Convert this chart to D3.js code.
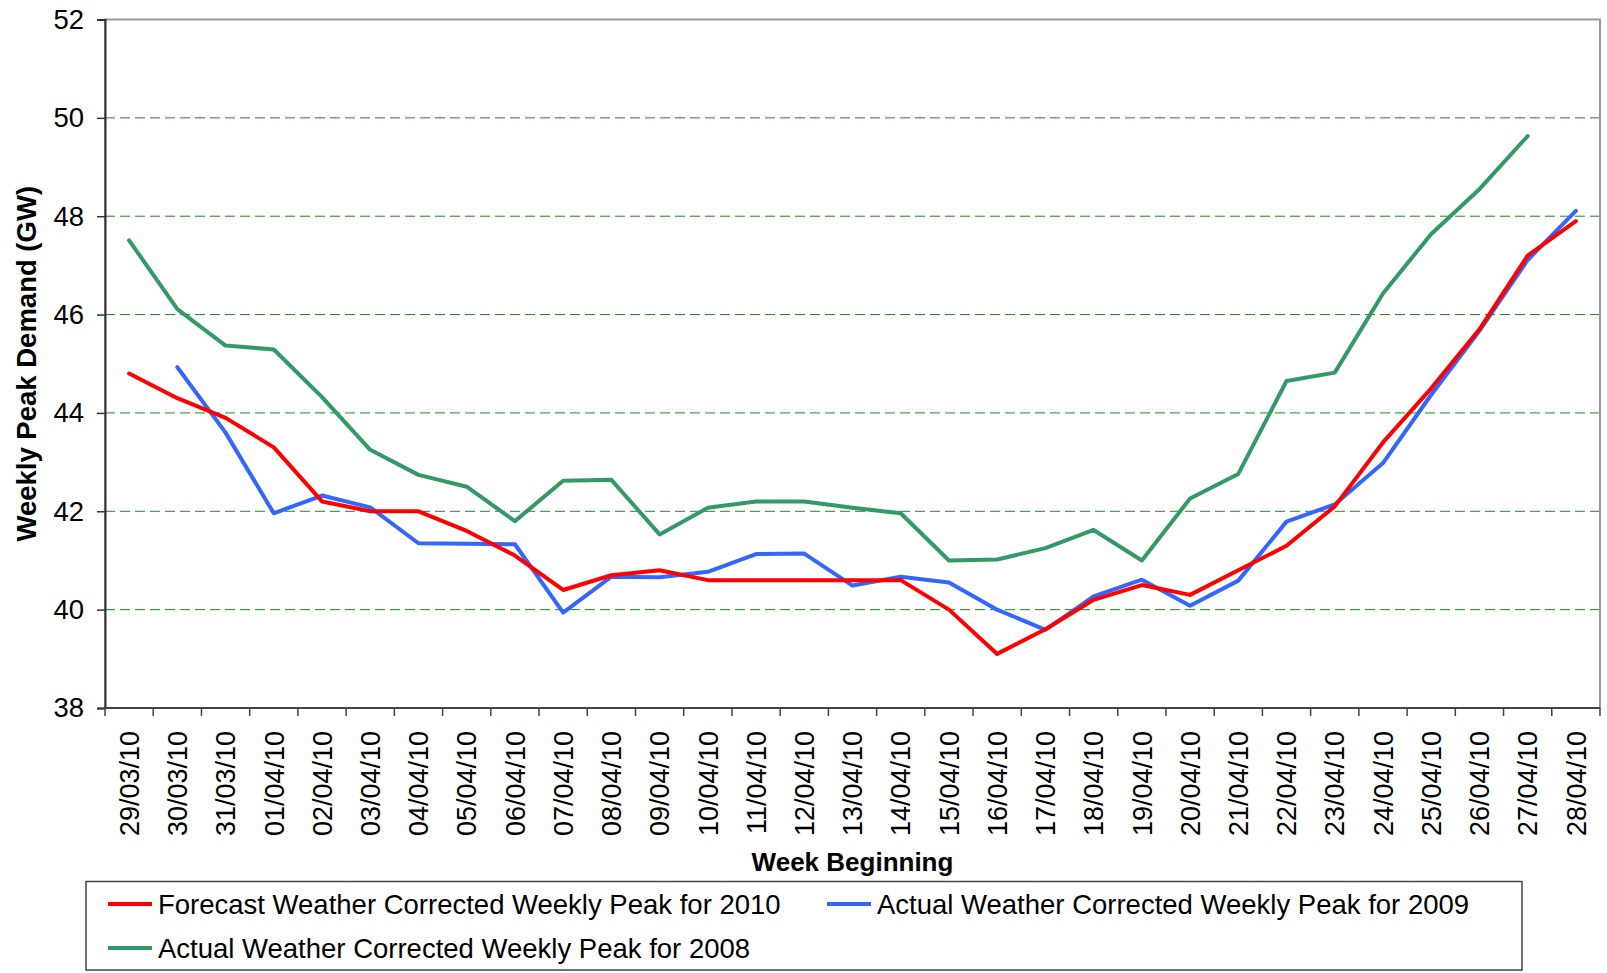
<!DOCTYPE html>
<html>
<head>
<meta charset="utf-8">
<script src="https://cdn.jsdelivr.net/npm/d3@7"></script>
<style>
  body { margin: 0; background: #fff; }
  text { font-family: "Liberation Sans", Arial, sans-serif; fill: #000; }
</style>
</head>
<body>
<div id="container"></div>
<script>
const weeks = ['29/03/10', '30/03/10', '31/03/10', '01/04/10', '02/04/10', '03/04/10', '04/04/10', '05/04/10',
  '06/04/10', '07/04/10', '08/04/10', '09/04/10', '10/04/10', '11/04/10', '12/04/10', '13/04/10', '14/04/10',
  '15/04/10', '16/04/10', '17/04/10', '18/04/10', '19/04/10', '20/04/10', '21/04/10', '22/04/10', '23/04/10',
  '24/04/10', '25/04/10', '26/04/10', '27/04/10', '28/04/10'];

const forecast2010 = [44.8, 44.3, 43.9, 43.3, 42.2, 42.0, 42.0, 41.6, 41.1, 40.4, 40.7, 40.8, 40.6, 40.6, 40.6, 40.6,
  40.6, 40.0, 39.1, 39.6, 40.2, 40.5, 40.3, 40.8, 41.3, 42.1, 43.4, 44.5, 45.7, 47.2, 47.9];

const actual2009 = [null, 44.93, 43.6, 41.96, 42.32, 42.08, 41.35, 41.34, 41.33, 39.94, 40.67, 40.66, 40.77, 41.13,
  41.14, 40.49, 40.67, 40.55, 40.0, 39.59, 40.27, 40.61, 40.08, 40.59, 41.79, 42.14, 42.98, 44.37, 45.67, 47.11, 48.11];

const actual2008 = [47.51, 46.11, 45.37, 45.29, 44.32, 43.25, 42.74, 42.5, 41.8, 42.62, 42.64, 41.53, 42.07, 42.2,
  42.2, 42.07, 41.96, 41.0, 41.02, 41.25, 41.62, 41.0, 42.26, 42.76, 44.65, 44.82, 46.43, 47.64, 48.55, 49.63, null];

const yTicks = [38, 40, 42, 44, 46, 48, 50, 52];

const seriesNames = ['Forecast Weather Corrected Weekly Peak for 2010', 'Actual Weather Corrected Weekly Peak for 2009',
  'Actual Weather Corrected Weekly Peak for 2008'];

const width = 1607;
const height = 973;
const plot = {left: 105, right: 1600, top: 19.5, bottom: 708};

const svg = d3.select('#container')
  .append('svg')
  .attr('width', width)
  .attr('height', height);

const xScale = d3.scaleBand()
  .domain(weeks)
  .range([plot.left, plot.right])
  .padding(0);

const yScale = d3.scaleLinear()
  .domain([38, 52])
  .range([plot.bottom, plot.top]);

//gridlines (dashed green)
svg.append('g')
  .selectAll('line')
  .data(yTicks.filter(d => d > 38 && d < 52))
  .enter()
  .append('line')
  .attr('x1', plot.left)
  .attr('x2', plot.right)
  .attr('y1', d => yScale(d))
  .attr('y2', d => yScale(d))
  .style('stroke', '#1a8a1a')
  .style('stroke-width', 1)
  .style('stroke-dasharray', '10,5');

//plot frame, top and right in grey
svg.append('rect')
  .attr('x', plot.left)
  .attr('y', plot.top)
  .attr('width', plot.right - plot.left)
  .attr('height', plot.bottom - plot.top)
  .style('fill', 'none')
  .style('stroke', '#999')
  .style('stroke-width', 2);

//y axis
const yAxis = svg.append('g')
  .attr('transform', `translate(${plot.left}, 0)`)
  .call(d3.axisLeft(yScale)
    .tickValues(yTicks)
    .tickSize(8)
    .tickPadding(13)
    .tickFormat(d3.format('d')));

yAxis.select('.domain').style('stroke', '#333').style('stroke-width', 2);
yAxis.selectAll('.tick line').style('stroke', '#333').style('stroke-width', 1.5);
yAxis.selectAll('.tick text')
  .style('font-family', '"Liberation Sans", Arial, sans-serif')
  .style('font-size', '27.5px')
  .style('fill', '#000');

//x axis: labels at band centres, ticks at band edges
const xAxis = svg.append('g')
  .attr('transform', `translate(0, ${plot.bottom})`);

xAxis.append('line')
  .attr('x1', plot.left)
  .attr('x2', plot.right)
  .style('stroke', '#444')
  .style('stroke-width', 2);

xAxis.selectAll('.x_tick')
  .data(weeks.concat(['end']))
  .enter()
  .append('line')
  .attr('class', 'x_tick')
  .attr('x1', d => d === 'end' ? plot.right : xScale(d))
  .attr('x2', d => d === 'end' ? plot.right : xScale(d))
  .attr('y1', 0)
  .attr('y2', 8)
  .style('stroke', '#444')
  .style('stroke-width', 1.5);

xAxis.selectAll('.x_label')
  .data(weeks)
  .enter()
  .append('text')
  .attr('class', 'x_label')
  .attr('transform', d => `translate(${xScale(d) + xScale.bandwidth() / 2}, 23) rotate(-90)`)
  .attr('text-anchor', 'end')
  .attr('dy', '0.36em')
  .style('font-size', '27px')
  .text(d => d);

//axis titles
svg.append('text')
  .attr('transform', `translate(26, ${(plot.top + plot.bottom) / 2}) rotate(-90)`)
  .attr('text-anchor', 'middle')
  .attr('dy', '0.36em')
  .style('font-size', '27.5px')
  .style('font-weight', 'bold')
  .text('Weekly Peak Demand (GW)');

svg.append('text')
  .attr('x', (plot.left + plot.right) / 2)
  .attr('y', 862)
  .attr('text-anchor', 'middle')
  .attr('dy', '0.36em')
  .style('font-size', '26px')
  .style('font-weight', 'bold')
  .text('Week Beginning');

//lines
const line = d3.line()
  .defined(d => d != null)
  .x((d, i) => xScale(weeks[i]) + xScale.bandwidth() / 2)
  .y(d => yScale(d));

const series = [
  {name: seriesNames[2], values: actual2008, color: '#339966'},
  {name: seriesNames[1], values: actual2009, color: '#3366ff'},
  {name: seriesNames[0], values: forecast2010, color: '#ff0000'}
];

svg.append('g')
  .selectAll('path')
  .data(series)
  .enter()
  .append('path')
  .attr('d', d => line(d.values))
  .style('fill', 'none')
  .style('stroke', d => d.color)
  .style('stroke-width', 4)
  .style('stroke-linejoin', 'round')
  .style('stroke-linecap', 'round');

//legend
const legend = svg.append('g');

legend.append('rect')
  .attr('x', 86)
  .attr('y', 881.5)
  .attr('width', 1436)
  .attr('height', 88.5)
  .style('fill', '#fff')
  .style('stroke', '#444')
  .style('stroke-width', 1.5);

const legendItems = [
  {name: seriesNames[0], color: '#ff0000', x: 108, y: 904},
  {name: seriesNames[1], color: '#3366ff', x: 827, y: 904},
  {name: seriesNames[2], color: '#339966', x: 108, y: 948}
];

const items = legend.selectAll('.legend_item')
  .data(legendItems)
  .enter()
  .append('g')
  .attr('class', 'legend_item')
  .attr('transform', d => `translate(${d.x}, ${d.y})`);

items.append('line')
  .attr('x1', 0)
  .attr('x2', 44)
  .style('stroke', d => d.color)
  .style('stroke-width', 4);

items.append('text')
  .attr('x', 50)
  .attr('dy', '0.36em')
  .style('font-size', '27.5px')
  .text(d => d.name);
</script>
</body>
</html>
